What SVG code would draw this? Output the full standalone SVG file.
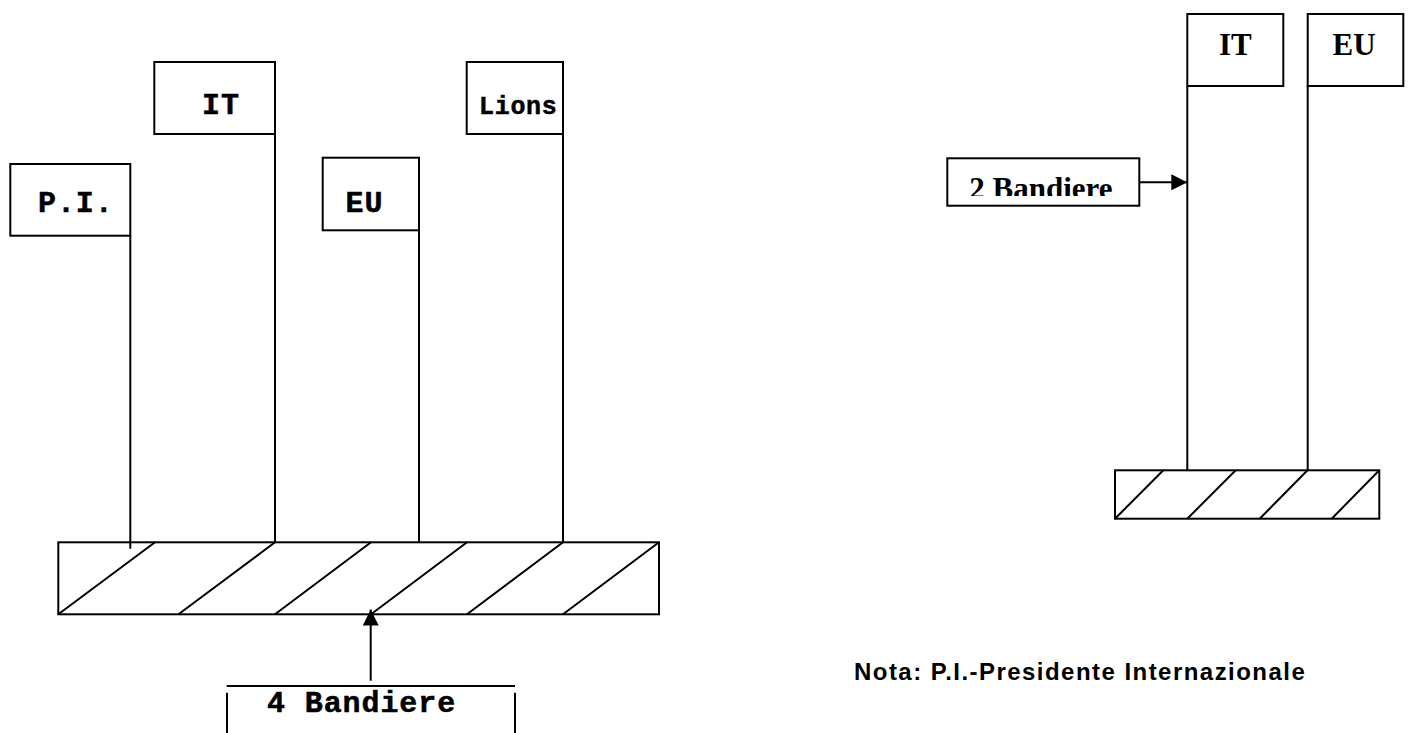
<svg xmlns="http://www.w3.org/2000/svg" width="1413" height="733" viewBox="0 0 1413 733">
<style>
.ln{stroke:#000;stroke-width:2;fill:none}
.bx{stroke:#000;stroke-width:2;fill:#fff}
.mono{font-family:"Liberation Mono","Courier New",monospace;font-weight:bold;font-size:30px;letter-spacing:0.9px;fill:#000;stroke:#000;stroke-width:0.5}
.small{font-size:25px;letter-spacing:0.7px}
.serif{font-family:"Liberation Serif","Times New Roman",serif;font-weight:bold;font-size:31px;fill:#000}
.sans{font-family:"Liberation Sans",Arial,sans-serif;font-weight:bold;font-size:24px;letter-spacing:1.46px;fill:#000}
</style>
<defs>
<marker id="ah" markerWidth="16" markerHeight="16" viewBox="0 0 16 16" refX="16" refY="8" orient="auto" markerUnits="userSpaceOnUse">
<path d="M0,0 L16,8 L0,16 Z" fill="#000"/>
</marker>
<clipPath id="clip2"><rect x="940" y="150" width="200" height="46"/></clipPath>
</defs>
<rect width="1413" height="733" fill="#fff"/>

<g id="base-left">
<rect class="ln" x="58.3" y="542.3" width="600.7" height="72"/>
<path class="ln" d="M155,542.3 L58.3,614.3 M275,542.3 L178.5,614.3 M371,542.3 L275,614.3 M467,542.3 L371,614.3 M563,542.3 L467,614.3 M659,542.3 L563,614.3"/>
</g>

<g id="flag-pi">
<rect class="bx" x="10.3" y="164" width="120" height="71.7"/>
<text class="mono" x="38" y="212.3">P.I.</text>
</g>
<g id="flag-it-left">
<rect class="bx" x="154.3" y="62" width="120.7" height="72"/>
<text class="mono" x="202" y="114.3">IT</text>
</g>
<g id="flag-eu-left">
<rect class="bx" x="322.7" y="157.7" width="96.3" height="72.6"/>
<text class="mono" x="345.5" y="212.3">EU</text>
</g>
<g id="flag-lions">
<rect class="bx" x="466.7" y="62" width="96.3" height="72"/>
<text class="mono small" x="479" y="114.3">Lions</text>
</g>

<g id="label-4">
<path class="ln" d="M226.7,686 L515,686 M227,692.7 L227,733 M515,692.7 L515,733"/>
<text class="mono" x="267" y="711.7">4 Bandiere</text>
</g>

<g id="base-right">
<rect class="ln" x="1115" y="470.3" width="264.3" height="48.4"/>
<path class="ln" d="M1163.3,470.3 L1115,518.7 M1235.7,470.3 L1187.3,518.7 M1307.5,470.3 L1259.7,518.7 M1379.3,470.3 L1331.7,518.7"/>
</g>
<g id="flag-it-right">
<rect class="bx" x="1187.3" y="14" width="96" height="72"/>
<text class="serif" x="1235.3" y="55" text-anchor="middle">IT</text>
</g>
<g id="flag-eu-right">
<rect class="bx" x="1307.7" y="14" width="95.6" height="72"/>
<text class="serif" x="1354" y="55" text-anchor="middle">EU</text>
</g>
<g id="label-2">
<rect class="bx" x="947.3" y="158.3" width="192" height="47.4"/>
<text class="serif" x="969.3" y="198.6" clip-path="url(#clip2)">2 Bandiere</text>
</g>

<g id="note">
<text class="sans" x="854" y="680">Nota: P.I.-Presidente Internazionale</text>
</g>

<g id="connectors">
<path class="ln" d="M130.3,235.7 L130.3,548.7"/>
<path class="ln" d="M275,134 L275,542.3"/>
<path class="ln" d="M419,230.3 L419,542.3"/>
<path class="ln" d="M563,134 L563,542.3"/>
<path class="ln" d="M1187.3,86 L1187.3,470.3"/>
<path class="ln" d="M1307.7,86 L1307.7,470.3"/>
<path class="ln" d="M370.7,680.7 L370.7,609.5" marker-end="url(#ah)"/>
<path class="ln" d="M1139.3,182.3 L1187.3,182.3" marker-end="url(#ah)"/>
</g>
</svg>
